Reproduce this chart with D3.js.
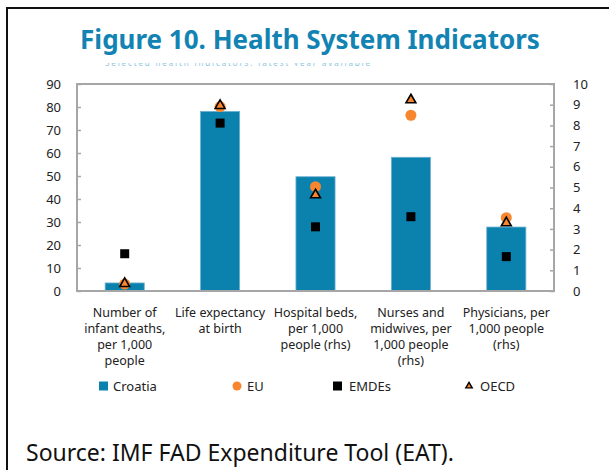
<!DOCTYPE html>
<html>
<head>
<meta charset="utf-8">
<script src="https://cdn.jsdelivr.net/npm/d3@7"></script>
<style>
  body { margin: 0; background: #fff; }
  text { font-family: 'Noto Sans', 'Open Sans', sans-serif; }
</style>
</head>
<body>
<div id="chart"></div>
<script>
const categories = [
  ['Number of', 'infant deaths,', 'per 1,000', 'people'],
  ['Life expectancy', 'at birth'],
  ['Hospital beds,', 'per 1,000', 'people (rhs)'],
  ['Nurses and', 'midwives, per', '1,000 people', '(rhs)'],
  ['Physicians, per', '1,000 people', '(rhs)']
]
const axisSide = ['left', 'left', 'right', 'right', 'right']
const croatia = [3.5, 78.1, 5.52, 6.46, 3.09]
const eu = [3.0, 80.2, 5.04, 8.49, 3.54]
const emdes = [16.2, 73.0, 3.1, 3.59, 1.66]
const oecd = [3.2, 80.6, 4.64, 9.23, 3.29]
const leftTicks = [0, 10, 20, 30, 40, 50, 60, 70, 80, 90]
const rightTicks = [0, 1, 2, 3, 4, 5, 6, 7, 8, 9, 10]

const svgWidth = 609
const svgHeight = 470
const margin = {top: 84, right: 55, bottom: 179, left: 77}
const width = svgWidth - margin.left - margin.right
const height = svgHeight - margin.top - margin.bottom

const blue = '#0b81ae'
const orange = '#f8862f'

const svg = d3.select('#chart').append('svg')
  .attr('width', svgWidth)
  .attr('height', svgHeight)

// outer frame, runs off the picture on the right and bottom
svg.append('path')
  .attr('d', 'M7,480 V8 H620')
  .attr('fill', 'none')
  .attr('stroke', '#111')
  .attr('stroke-width', 2)

svg.append('text')
  .attr('x', 310)
  .attr('y', 49)
  .attr('text-anchor', 'middle')
  .attr('font-size', 26)
  .attr('font-weight', 'bold')
  .attr('fill', '#1283b3')
  .text('Figure 10. Health System Indicators')

// subtitle line, mostly hidden behind the plot
svg.append('clipPath').attr('id', 'subclip')
  .append('rect').attr('x', 0).attr('y', 63).attr('width', 609).attr('height', 3)
svg.append('text')
  .attr('clip-path', 'url(#subclip)')
  .attr('x', 105)
  .attr('y', 66)
  .attr('font-size', 8)
  .attr('textLength', 265)
  .attr('lengthAdjust', 'spacing')
  .attr('fill', '#8cc6e0')
  .text('Selected health indicators, latest year available')

const g = svg.append('g')
  .attr('transform', 'translate(' + margin.left + ',' + margin.top + ')')

const x = d3.scaleBand()
  .domain(d3.range(categories.length))
  .range([0, width])
  .paddingInner(0.59)
  .paddingOuter(0.295)
const yLeft = d3.scaleLinear().domain([0, 90]).range([height, 0])
const yRight = d3.scaleLinear().domain([0, 10]).range([height, 0])
const yOf = i => axisSide[i] === 'left' ? yLeft : yRight

const leftAxis = d3.axisLeft(yLeft).tickValues(leftTicks).tickSize(-4).tickPadding(16)
const rightAxis = d3.axisRight(yRight).tickValues(rightTicks).tickSize(-4).tickPadding(19)

const la = g.append('g').call(leftAxis)
const ra = g.append('g').attr('transform', 'translate(' + width + ',0)').call(rightAxis)
;[la, ra].forEach(a => {
  a.select('.domain').remove()
  a.selectAll('line').attr('stroke', '#a6a6a6').attr('stroke-width', 1.5)
  a.selectAll('text').attr('font-size', 13).attr('fill', '#222')
    .attr('font-family', "'Noto Sans', sans-serif")
})

// bars
g.selectAll('.bar')
  .data(croatia)
  .enter().append('rect')
  .attr('class', 'bar')
  .attr('x', (d, i) => x(i))
  .attr('y', (d, i) => yOf(i)(d))
  .attr('width', x.bandwidth())
  .attr('height', (d, i) => height - yOf(i)(d))
  .attr('fill', blue)
  .attr('stroke', '#6fb2cf')
  .attr('stroke-width', 0.8)

const cx = i => x(i) + x.bandwidth() / 2

g.selectAll('.emde')
  .data(emdes)
  .enter().append('rect')
  .attr('x', (d, i) => cx(i) - 4.5)
  .attr('y', (d, i) => yOf(i)(d) - 4.5)
  .attr('width', 9)
  .attr('height', 9)
  .attr('fill', '#000')

g.selectAll('.eu')
  .data(eu)
  .enter().append('circle')
  .attr('cx', (d, i) => cx(i))
  .attr('cy', (d, i) => yOf(i)(d))
  .attr('r', 5.5)
  .attr('fill', orange)

const tri = d3.symbol().type(d3.symbolTriangle).size(42)
g.selectAll('.oecd')
  .data(oecd)
  .enter().append('path')
  .attr('transform', (d, i) => 'translate(' + cx(i) + ',' + yOf(i)(d) + ')')
  .attr('d', tri)
  .attr('fill', orange)
  .attr('stroke', '#000')
  .attr('stroke-width', 1.6)

// plot frame
g.append('rect')
  .attr('width', width)
  .attr('height', height)
  .attr('fill', 'none')
  .attr('stroke', '#a6a6a6')
  .attr('stroke-width', 2)

// category labels
const cat = g.selectAll('.cat')
  .data(categories)
  .enter().append('text')
  .attr('text-anchor', 'middle')
  .attr('font-size', 12.5)
  .attr('fill', '#222')
cat.selectAll('tspan')
  .data((d, i) => d.map(t => ({t, i})))
  .enter().append('tspan')
  .attr('x', d => cx(d.i))
  .attr('y', (d, j) => height + 26 + j * 16)
  .text(d => d.t)

// legend
const legendY = 386
const leg = svg.append('g').attr('font-size', 13).attr('fill', '#222')
leg.append('rect').attr('x', 99).attr('y', legendY - 4.5).attr('width', 9).attr('height', 9).attr('fill', blue)
leg.append('text').attr('x', 113).attr('y', legendY + 4.5).text('Croatia')
leg.append('circle').attr('cx', 237).attr('cy', legendY).attr('r', 4.5).attr('fill', orange)
leg.append('text').attr('x', 247).attr('y', legendY + 4.5).text('EU')
leg.append('rect').attr('x', 333).attr('y', legendY - 4.5).attr('width', 9).attr('height', 9).attr('fill', '#000')
leg.append('text').attr('x', 349).attr('y', legendY + 4.5).text('EMDEs')
leg.append('path').attr('transform', 'translate(469,' + legendY + ')')
  .attr('d', d3.symbol().type(d3.symbolTriangle).size(18))
  .attr('fill', orange).attr('stroke', '#000').attr('stroke-width', 1.4)
leg.append('text').attr('x', 480).attr('y', legendY + 4.5).text('OECD')

svg.append('text')
  .attr('x', 26)
  .attr('y', 461)
  .attr('font-size', 23)
  .attr('fill', '#111')
  .text('Source: IMF FAD Expenditure Tool (EAT).')
</script>
</body>
</html>
